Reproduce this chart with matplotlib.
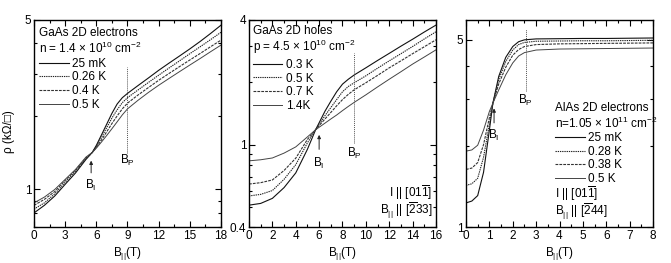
import matplotlib
matplotlib.use("Agg")
import matplotlib.pyplot as plt
from matplotlib.ticker import FixedLocator, LogLocator, NullFormatter, MultipleLocator, FixedFormatter
import numpy as np

plt.rcParams['font.family'] = ['Liberation Sans', 'DejaVu Sans']
plt.rcParams['mathtext.fontset'] = 'custom'
plt.rcParams['mathtext.rm'] = 'Liberation Sans'
plt.rcParams['mathtext.it'] = 'Liberation Sans'
plt.rcParams['mathtext.bf'] = 'Liberation Sans'

# ---------------- Panel 1: GaAs 2D electrons ----------------
b1 = [0, 1, 2, 3, 4, 5, 5.6, 6, 6.5, 7, 7.5, 8, 8.5, 9, 10, 11, 12, 13, 14, 15, 16, 17, 18]
e_25mK = [0.80, 0.86, 0.94, 1.05, 1.17, 1.33, 1.42, 1.52, 1.68, 1.86, 2.06, 2.25, 2.39, 2.49, 2.68, 2.88, 3.10, 3.32, 3.55, 3.80, 4.08, 4.40, 4.76]
e_026K = [0.83, 0.88, 0.96, 1.07, 1.19, 1.34, 1.42, 1.50, 1.64, 1.80, 1.97, 2.13, 2.28, 2.39, 2.57, 2.76, 2.96, 3.17, 3.39, 3.63, 3.88, 4.15, 4.45]
e_04K = [0.86, 0.91, 0.98, 1.09, 1.20, 1.35, 1.42, 1.49, 1.60, 1.73, 1.87, 2.01, 2.15, 2.27, 2.45, 2.63, 2.82, 3.01, 3.21, 3.42, 3.64, 3.88, 4.13]
e_05K = [0.88, 0.93, 1.00, 1.10, 1.21, 1.36, 1.42, 1.48, 1.57, 1.67, 1.78, 1.90, 2.03, 2.15, 2.33, 2.51, 2.69, 2.87, 3.06, 3.26, 3.47, 3.70, 3.94]
labels1 = ['25 mK', '0.26 K', '0.4 K', '0.5 K']

# ---------------- Panel 2: GaAs 2D holes ----------------
b2 = [0, 1, 2, 3, 4, 5, 5.7, 6.5, 7, 7.5, 8, 8.5, 9, 10, 11, 12, 13, 14, 15, 16]
h_03K = [0.51, 0.52, 0.55, 0.62, 0.73, 0.95, 1.18, 1.45, 1.62, 1.80, 1.96, 2.07, 2.17, 2.35, 2.55, 2.76, 2.99, 3.23, 3.50, 3.78]
h_05K = [0.565, 0.575, 0.60, 0.68, 0.80, 1.02, 1.18, 1.38, 1.51, 1.65, 1.80, 1.91, 1.99, 2.15, 2.34, 2.54, 2.75, 2.98, 3.24, 3.51]
h_07K = [0.645, 0.655, 0.675, 0.75, 0.86, 1.06, 1.18, 1.33, 1.43, 1.54, 1.65, 1.75, 1.84, 1.99, 2.16, 2.35, 2.54, 2.75, 2.97, 3.21]
h_14K = [0.835, 0.845, 0.862, 0.91, 0.975, 1.09, 1.18, 1.27, 1.33, 1.39, 1.46, 1.53, 1.60, 1.74, 1.90, 2.07, 2.25, 2.45, 2.65, 2.87]
labels2 = ['0.3 K', '0.5 K', '0.7 K', '1.4K']

# ---------------- Panel 3: AlAs 2D electrons ----------------
b3 = [0, 0.25, 0.5, 0.75, 1.0, 1.15, 1.4, 1.7, 2.0, 2.25, 2.5, 3, 4, 5, 6, 7, 8]
a_25mK = [1.23, 1.25, 1.31, 1.60, 2.30, 2.90, 3.65, 4.30, 4.72, 4.92, 5.00, 5.04, 5.05, 5.06, 5.06, 5.07, 5.08]
a_028K = [1.43, 1.45, 1.52, 1.82, 2.42, 2.90, 3.55, 4.15, 4.58, 4.80, 4.89, 4.94, 4.95, 4.96, 4.96, 4.97, 4.98]
a_038K = [1.64, 1.66, 1.74, 2.03, 2.56, 2.90, 3.42, 3.95, 4.38, 4.60, 4.72, 4.80, 4.83, 4.84, 4.85, 4.86, 4.87]
a_05K = [1.92, 1.94, 2.02, 2.30, 2.70, 2.90, 3.25, 3.70, 4.10, 4.35, 4.48, 4.58, 4.62, 4.63, 4.64, 4.65, 4.66]
labels3 = ['25 mK', '0.28 K', '0.38 K', '0.5 K']

styles = [dict(color='#111111', lw=0.8, ls='-'),
          dict(color='#222222', lw=0.8, ls=(0, (1.2, 0.8))),
          dict(color='#333333', lw=0.8, ls=(0, (2.5, 1.0))),
          dict(color='#444444', lw=0.7, ls='-')]

FS = 8.5
fig = plt.figure(figsize=(6.71, 2.63), dpi=100)
H = 263.0
W = 671.0
def add_ax(x0, x1):
    return fig.add_axes([x0 / W, 1 - 227 / H, (x1 - x0) / W, 207 / H])

ax1 = add_ax(34, 221)
ax2 = add_ax(249, 436)
ax3 = add_ax(466, 653)

def style_axis(ax, xlim, xmaj, xmin, ylim, ymaj):
    ax.set_yscale('log')
    ax.set_xlim(*xlim)
    ax.set_ylim(*ylim)
    ax.xaxis.set_major_locator(MultipleLocator(xmaj))
    ax.xaxis.set_minor_locator(MultipleLocator(xmin))
    ax.yaxis.set_major_locator(FixedLocator(ymaj))
    ax.yaxis.set_major_formatter(FixedFormatter([('%g' % v) for v in ymaj]))
    ax.yaxis.set_minor_locator(LogLocator(base=10, subs=np.arange(2, 10)))
    ax.yaxis.set_minor_formatter(NullFormatter())
    ax.tick_params(which='both', direction='in', top=True, right=True, labelsize=FS, width=0.8, pad=2)
    ax.tick_params(which='major', length=4)
    ax.tick_params(which='minor', length=2)
    for s in ax.spines.values():
        s.set_linewidth(1.0)
    ax.set_xlabel('B$_{||}$(T)', fontsize=FS, labelpad=2)

# Panel 1
for y, lab, st in zip([e_25mK, e_026K, e_04K, e_05K], labels1, styles):
    ax1.plot(b1, y, label=lab, **st)
style_axis(ax1, (0, 18), 3, 1.5, (0.7, 5), [1, 5])
ax1.set_ylabel('ρ (kΩ/□)', fontsize=FS)
ax1.yaxis.set_label_coords(-0.1, 0.46)
ax1.plot([9, 9], [1.42, 3.2], color='#555555', lw=0.7, ls=(0, (1, 1)))
ax1.text(9, 1.32, 'B$_\\mathrm{P}$', fontsize=FS, ha='center', va='center')
ax1.annotate('', xy=(5.5, 1.35), xytext=(5.5, 1.14),
             arrowprops=dict(arrowstyle='-|>', lw=0.7, color='#222222', mutation_scale=5))
ax1.text(5.5, 1.04, 'B$_\\mathrm{I}$', fontsize=FS, ha='center', va='center')
ax1.text(0.027, 0.937, 'GaAs 2D electrons', transform=ax1.transAxes, fontsize=FS, va='center')
ax1.text(0.027, 0.862, 'n = 1.4 × 10$^{10}$ cm$^{-2}$', transform=ax1.transAxes, fontsize=FS, va='center')

# Panel 2
for y, lab, st in zip([h_03K, h_05K, h_07K, h_14K], labels2, styles):
    ax2.plot(b2, y, label=lab, **st)
style_axis(ax2, (0, 16), 2, 1, (0.4, 4), [0.4, 1, 4])
ax2.plot([9, 9], [1.02, 2.77], color='#555555', lw=0.7, ls=(0, (1, 1)))
ax2.text(9, 0.91, 'B$_\\mathrm{P}$', fontsize=FS, ha='center', va='center')
ax2.annotate('', xy=(6.0, 1.15), xytext=(6.0, 0.92),
             arrowprops=dict(arrowstyle='-|>', lw=0.7, color='#222222', mutation_scale=5))
ax2.text(6.0, 0.81, 'B$_\\mathrm{I}$', fontsize=FS, ha='center', va='center')
ax2.text(0.021, 0.945, 'GaAs 2D holes', transform=ax2.transAxes, fontsize=FS, va='center')
ax2.text(0.021, 0.868, 'p = 4.5 × 10$^{10}$ cm$^{-2}$', transform=ax2.transAxes, fontsize=FS, va='center')
ax2.text(0.979, 0.168, 'I || [01$\\overline{1}$]', transform=ax2.transAxes, fontsize=FS, va='center', ha='right')
ax2.text(0.979, 0.08, 'B$_{||}$ || [$\\overline{2}$33]', transform=ax2.transAxes, fontsize=FS, va='center', ha='right')

# Panel 3
for y, lab, st in zip([a_25mK, a_028K, a_038K, a_05K], labels3, styles):
    ax3.plot(b3, y, label=lab, **st)
style_axis(ax3, (0, 8), 1, 0.5, (1, 5.93), [1, 5])
ax3.plot([2.56, 2.56], [3.23, 5.49], color='#555555', lw=0.7, ls=(0, (1, 1)))
ax3.text(2.56, 2.96, 'B$_\\mathrm{P}$', fontsize=FS, ha='center', va='center')
ax3.annotate('', xy=(1.2, 2.84), xytext=(1.2, 2.39),
             arrowprops=dict(arrowstyle='-|>', lw=0.7, color='#222222', mutation_scale=5))
ax3.text(1.2, 2.2, 'B$_\\mathrm{I}$', fontsize=FS, ha='center', va='center')
ax3.text(0.476, 0.575, 'AlAs 2D electrons', transform=ax3.transAxes, fontsize=FS, va='center')
ax3.text(0.476, 0.502, 'n=1.05 × 10$^{11}$ cm$^{-2}$', transform=ax3.transAxes, fontsize=FS, va='center')
ax3.text(0.476, 0.160, 'I || [01$\\overline{1}$]', transform=ax3.transAxes, fontsize=FS, va='center')
ax3.text(0.476, 0.075, 'B$_{||}$ || [$\\overline{2}$44]', transform=ax3.transAxes, fontsize=FS, va='center')

leg_kw = dict(frameon=False, fontsize=FS, handlelength=2.5, handletextpad=0.3,
              labelspacing=0.14, borderpad=0, borderaxespad=0, loc='upper left')
ax1.legend(bbox_to_anchor=(0.027, 0.818), **leg_kw)
ax2.legend(bbox_to_anchor=(0.021, 0.812), **leg_kw)
ax3.legend(bbox_to_anchor=(0.476, 0.458), **leg_kw)

fig.savefig('out.png', dpi=100)
